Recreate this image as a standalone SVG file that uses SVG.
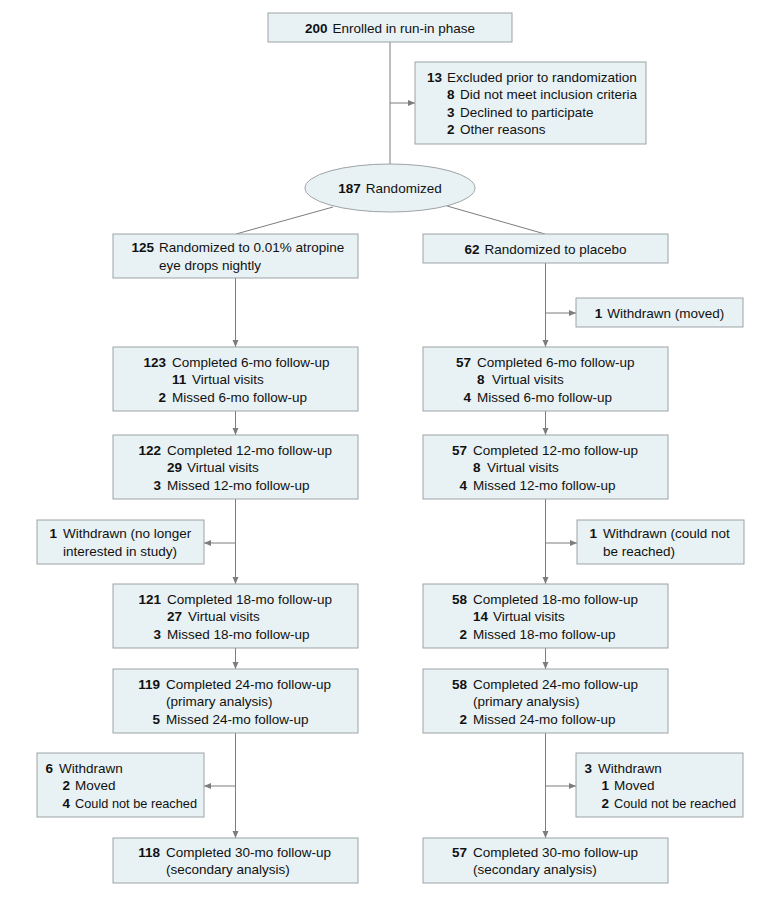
<svg xmlns="http://www.w3.org/2000/svg" width="780" height="897" viewBox="0 0 780 897">
<style>
.box{fill:#e8f1f4;stroke:#9ea3a6;stroke-width:1}
.ln{fill:none;stroke:#7d7d7d;stroke-width:1}
.arr{fill:none;stroke:#7d7d7d;stroke-width:1;marker-end:url(#ah)}
text{font-family:"Liberation Sans",Arial,sans-serif;font-size:13.5px;fill:#111}
.n{font-weight:bold}
.e{text-anchor:end;font-weight:bold}
.m{text-anchor:middle}
</style>
<defs>
<marker id="ah" markerUnits="userSpaceOnUse" markerWidth="8" markerHeight="8" refX="7" refY="3.5" orient="auto">
<path d="M0,0.5 L7,3.5 L0,6.5 Z" fill="#7d7d7d"/>
</marker>
</defs>
<rect width="780" height="897" fill="#fff"/>

<g id="connectors">
<line class="ln" x1="390" y1="42" x2="390" y2="164"/>
<line class="arr" x1="390" y1="103" x2="415" y2="103"/>
<line class="ln" x1="333" y1="207" x2="236" y2="234"/>
<line class="ln" x1="447" y1="206" x2="545" y2="234"/>
<line class="arr" x1="235.5" y1="278" x2="235.5" y2="347"/>
<line class="arr" x1="545.5" y1="263" x2="545.5" y2="347"/>
<line class="arr" x1="545.5" y1="313" x2="576" y2="313"/>
<line class="arr" x1="235.5" y1="411" x2="235.5" y2="435"/>
<line class="arr" x1="545.5" y1="411" x2="545.5" y2="435"/>
<line class="arr" x1="235.5" y1="499" x2="235.5" y2="584"/>
<line class="arr" x1="235.5" y1="543" x2="204" y2="543"/>
<line class="arr" x1="545.5" y1="499" x2="545.5" y2="584"/>
<line class="arr" x1="545.5" y1="543" x2="577" y2="543"/>
<line class="arr" x1="235.5" y1="648" x2="235.5" y2="669"/>
<line class="arr" x1="545.5" y1="648" x2="545.5" y2="669"/>
<line class="arr" x1="235.5" y1="733" x2="235.5" y2="838"/>
<line class="arr" x1="235.5" y1="786" x2="204" y2="786"/>
<line class="arr" x1="545.5" y1="733" x2="545.5" y2="838"/>
<line class="arr" x1="545.5" y1="786" x2="576" y2="786"/>
</g>

<g id="enrolled">
<rect class="box" x="268" y="13" width="244" height="29"/>
<text class="m" x="390" y="32.5"><tspan class="n">200</tspan><tspan dx="5">Enrolled in run-in phase</tspan></text>
</g>

<g id="excluded">
<rect class="box" x="415" y="62" width="231" height="82"/>
<text class="e" x="442" y="81.75">13</text><text x="447" y="81.75">Excluded prior to randomization</text>
<text class="n" x="447" y="99.25">8</text><text x="460" y="99.25">Did not meet inclusion criteria</text>
<text class="n" x="447" y="116.75">3</text><text x="460" y="116.75">Declined to participate</text>
<text class="n" x="447" y="134.25">2</text><text x="460" y="134.25">Other reasons</text>
</g>

<g id="randomized">
<ellipse class="box" cx="390" cy="188" rx="85" ry="24"/>
<text class="m" x="390" y="193"><tspan class="n">187</tspan><tspan dx="5">Randomized</tspan></text>
</g>

<g id="atropine">
<rect class="box" x="113" y="234" width="245" height="44"/>
<text class="e" x="154" y="252.25">125</text><text x="159" y="252.25">Randomized to 0.01% atropine</text>
<text x="159" y="269.75">eye drops nightly</text>
</g>

<g id="placebo">
<rect class="box" x="423" y="234" width="245" height="29"/>
<text class="m" x="545.5" y="253.5"><tspan class="n">62</tspan><tspan dx="5">Randomized to placebo</tspan></text>
</g>

<g id="withdrawn-moved">
<rect class="box" x="576" y="298" width="167" height="29"/>
<text class="m" x="659.5" y="317.5"><tspan class="n">1</tspan><tspan dx="5">Withdrawn (moved)</tspan></text>
</g>

<g id="a6">
<rect class="box" x="113" y="347" width="245" height="64"/>
<text class="e" x="166" y="366.5">123</text><text x="172" y="366.5">Completed 6-mo follow-up</text>
<text class="n" x="172" y="384">11</text><text x="192" y="384">Virtual visits</text>
<text class="e" x="166" y="401.5">2</text><text x="172" y="401.5">Missed 6-mo follow-up</text>
</g>

<g id="p6">
<rect class="box" x="423" y="347" width="245" height="64"/>
<text class="e" x="471" y="366.5">57</text><text x="477" y="366.5">Completed 6-mo follow-up</text>
<text class="n" x="477" y="384">8</text><text x="492" y="384">Virtual visits</text>
<text class="e" x="471" y="401.5">4</text><text x="477" y="401.5">Missed 6-mo follow-up</text>
</g>

<g id="a12">
<rect class="box" x="113" y="435" width="245" height="64"/>
<text class="e" x="161" y="454.5">122</text><text x="167" y="454.5">Completed 12-mo follow-up</text>
<text class="n" x="167" y="472">29</text><text x="187" y="472">Virtual visits</text>
<text class="e" x="161" y="489.5">3</text><text x="167" y="489.5">Missed 12-mo follow-up</text>
</g>

<g id="p12">
<rect class="box" x="423" y="435" width="245" height="64"/>
<text class="e" x="467" y="454.5">57</text><text x="473" y="454.5">Completed 12-mo follow-up</text>
<text class="n" x="473" y="472">8</text><text x="487" y="472">Virtual visits</text>
<text class="e" x="467" y="489.5">4</text><text x="473" y="489.5">Missed 12-mo follow-up</text>
</g>

<g id="aw1">
<rect class="box" x="37" y="520" width="167" height="44"/>
<text class="e" x="57" y="538.25">1</text><text x="63" y="538.25">Withdrawn (no longer</text>
<text x="63" y="555.75">interested in study)</text>
</g>

<g id="pw1">
<rect class="box" x="577" y="520" width="167" height="44"/>
<text class="e" x="597" y="538.25">1</text><text x="603" y="538.25">Withdrawn (could not</text>
<text x="603" y="555.75">be reached)</text>
</g>

<g id="a18">
<rect class="box" x="113" y="584" width="245" height="64"/>
<text class="e" x="161" y="603.5">121</text><text x="167" y="603.5">Completed 18-mo follow-up</text>
<text class="n" x="167" y="621">27</text><text x="188" y="621">Virtual visits</text>
<text class="e" x="161" y="638.5">3</text><text x="167" y="638.5">Missed 18-mo follow-up</text>
</g>

<g id="p18">
<rect class="box" x="423" y="584" width="245" height="64"/>
<text class="e" x="467" y="603.5">58</text><text x="473" y="603.5">Completed 18-mo follow-up</text>
<text class="n" x="473" y="621">14</text><text x="493" y="621">Virtual visits</text>
<text class="e" x="467" y="638.5">2</text><text x="473" y="638.5">Missed 18-mo follow-up</text>
</g>

<g id="a24">
<rect class="box" x="113" y="669" width="245" height="64"/>
<text class="e" x="160" y="688.5">119</text><text x="166" y="688.5">Completed 24-mo follow-up</text>
<text x="166" y="706">(primary analysis)</text>
<text class="e" x="160" y="723.5">5</text><text x="166" y="723.5">Missed 24-mo follow-up</text>
</g>

<g id="p24">
<rect class="box" x="423" y="669" width="245" height="64"/>
<text class="e" x="467" y="688.5">58</text><text x="473" y="688.5">Completed 24-mo follow-up</text>
<text x="473" y="706">(primary analysis)</text>
<text class="e" x="467" y="723.5">2</text><text x="473" y="723.5">Missed 24-mo follow-up</text>
</g>

<g id="aw2">
<rect class="box" x="37" y="753" width="167" height="64"/>
<text class="e" x="53" y="772.5">6</text><text x="59" y="772.5">Withdrawn</text>
<text class="e" x="70" y="790">2</text><text x="75" y="790">Moved</text>
<text class="e" x="70" y="807.5">4</text><text x="75" y="807.5" textLength="122" lengthAdjust="spacingAndGlyphs">Could not be reached</text>
</g>

<g id="pw2">
<rect class="box" x="576" y="753" width="167" height="64"/>
<text class="e" x="592" y="772.5">3</text><text x="598" y="772.5">Withdrawn</text>
<text class="e" x="609" y="790">1</text><text x="614" y="790">Moved</text>
<text class="e" x="609" y="807.5">2</text><text x="614" y="807.5" textLength="122" lengthAdjust="spacingAndGlyphs">Could not be reached</text>
</g>

<g id="a30">
<rect class="box" x="113" y="838" width="245" height="45"/>
<text class="e" x="160" y="856.75">118</text><text x="166" y="856.75">Completed 30-mo follow-up</text>
<text x="166" y="874.25">(secondary analysis)</text>
</g>

<g id="p30">
<rect class="box" x="423" y="838" width="245" height="45"/>
<text class="e" x="467" y="856.75">57</text><text x="473" y="856.75">Completed 30-mo follow-up</text>
<text x="473" y="874.25">(secondary analysis)</text>
</g>
</svg>
